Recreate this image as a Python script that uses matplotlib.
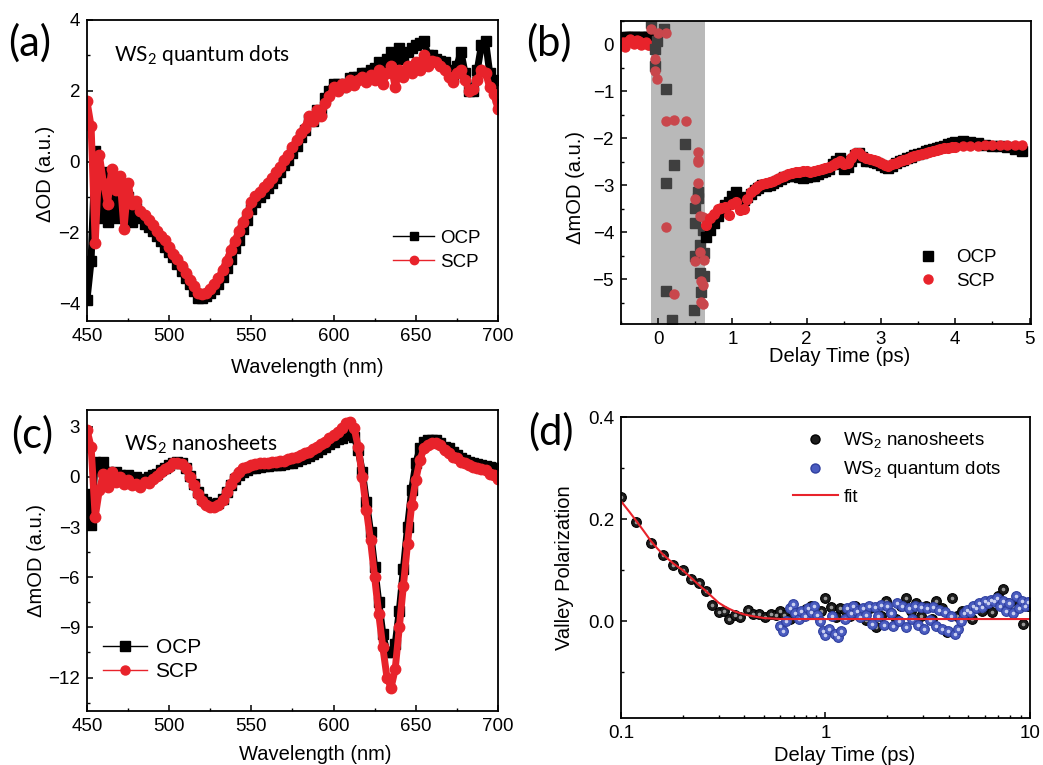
import numpy as np
import matplotlib
matplotlib.use('Agg')
from matplotlib import pyplot as plt
from matplotlib.lines import Line2D
from matplotlib.ticker import MultipleLocator, LogLocator, NullFormatter, FixedLocator

plt.rcParams['font.family'] = ['Liberation Sans', 'DejaVu Sans']
plt.rcParams['xtick.direction'] = 'in'
plt.rcParams['ytick.direction'] = 'in'
plt.rcParams['axes.linewidth'] = 1.3

RED = '#e8232b'

# ---------------- panel (a): WS2 quantum dots spectra ----------------
wl = np.arange(450, 700.1, 2.5)
ocp_a = [-3.9, -2.8, 0.3, -1.6, -0.3, -1.7, -0.9, -1.6, -1.1, -1.5,
         -1.0, -1.7, -1.3, -1.6, -1.75, -1.85, -1.95, -2.1, -2.25, -2.4,
         -2.55, -2.7, -2.9, -3.1, -3.3, -3.45, -3.65, -3.85, -3.85, -3.8,
         -3.7, -3.6, -3.45, -3.25, -3.0, -2.75, -2.45, -2.2, -1.9, -1.65,
         -1.35, -1.15, -1.0, -0.88, -0.75, -0.6, -0.45, -0.3, -0.1, 0.05,
         0.25, 0.45, 0.7, 0.9, 1.2, 1.15, 1.45, 1.4, 1.8, 2.0,
         2.2, 2.2, 2.1, 2.2, 2.35, 2.4, 2.4, 2.5, 2.5, 2.6,
         2.65, 2.8, 2.75, 2.9, 3.1, 2.9, 3.2, 2.9, 3.1, 3.2,
         3.3, 3.35, 3.4, 3.0, 3.0, 2.9, 2.85, 2.8, 2.6, 2.4,
         2.7, 3.1, 2.5, 2.0, 2.0, 2.6, 3.3, 3.4, 2.5, 2.3,
         1.8]
scp_a = [1.7, 1.0, -2.3, 0.2, -0.6, -1.2, -0.2, -0.8, -0.4, -1.9,
         -0.6, -1.2, -1.1, -1.4, -1.5, -1.65, -1.8, -1.95, -2.1, -2.2,
         -2.4, -2.6, -2.75, -2.95, -3.15, -3.35, -3.5, -3.7, -3.75, -3.7,
         -3.6, -3.45, -3.3, -3.05, -2.8, -2.5, -2.25, -1.95, -1.7, -1.45,
         -1.15, -0.98, -0.85, -0.72, -0.6, -0.45, -0.3, -0.15, 0.05, 0.2,
         0.4, 0.6, 0.8, 0.95, 1.3, 1.15, 1.45, 1.3, 1.65, 1.85,
         2.1, 2.0, 2.2, 2.1, 2.3, 2.15, 2.3, 2.4, 2.25, 2.45,
         2.3, 2.6, 2.2, 2.5, 2.7, 2.1, 2.6, 2.4, 2.7, 2.5,
         2.8, 2.6, 3.0, 2.7, 2.85, 2.8, 2.7, 2.6, 2.4, 2.25,
         2.5, 2.6, 2.3, 2.0, 2.05, 2.3, 2.6, 2.5, 2.1, 1.9,
         1.5]

# ---------------- panel (b): kinetics ----------------
t_pre = [-0.47, -0.44, -0.41, -0.38, -0.35, -0.32, -0.29, -0.26, -0.23, -0.20, -0.17, -0.14, -0.12]
ocp_pre = [0.14, 0.16, 0.15, 0.17, 0.15, 0.16, 0.14, 0.15, 0.16, 0.15, 0.14, 0.16, 0.15]
scp_pre = [0.05, -0.05, 0.08, 0.12, 0.06, 0.02, 0.10, 0.07, 0.0, 0.03, 0.05, -0.02, 0.0]

t_ocp_span = [-0.09, -0.04, -0.02, -0.04, 0.085, 0.10, 0.10, 0.11, 0.19, 0.22, 0.36, 0.48, 0.49,
              0.50, 0.50, 0.53, 0.54, 0.56, 0.62, 0.57, 0.62, 0.58, 0.61]
ocp_span = [0.45, -0.1, 0.07, -0.46, 0.33, -0.95, -2.94, -5.24, -5.86, -2.56, -2.11, -5.65, -4.5,
            -3.49, -3.79, -3.13, -3.26, -4.27, -4.44, -4.87, -4.93, -5.27, -3.95]
t_scp_span = [-0.09, 0.0, 0.10, -0.04, -0.04, -0.02, 0.10, 0.22, 0.37, 0.53, 0.53, 0.54, 0.54,
              0.50, 0.56, 0.61, 0.11, 0.56, 0.50, 0.62, 0.58, 0.61, 0.22, 0.58, 0.61]
scp_span = [0.33, 0.24, 0.24, -0.31, -0.56, -0.73, -1.62, -1.6, -1.62, -2.28, -2.51, -2.45, -2.94,
            -3.28, -3.66, -3.68, -3.89, -4.42, -4.61, -4.59, -5.04, -5.12, -5.31, -5.48, -5.52]

t_main = np.arange(0.65, 4.001, 0.05)
ocp_main = [-4.10, -3.95, -3.80, -3.65, -3.55, -3.42, -3.35, -3.22, -3.15, -3.28,
            -3.30, -3.25, -3.18, -3.10, -3.05, -3.00, -3.02, -3.00, -2.95, -2.90,
            -2.87, -2.83, -2.80, -2.80, -2.78, -2.82, -2.85, -2.83, -2.80, -2.80,
            -2.75, -2.72, -2.70, -2.65, -2.55, -2.47, -2.42, -2.65, -2.60, -2.48,
            -2.35, -2.32, -2.40, -2.47, -2.48, -2.50, -2.52, -2.56, -2.60, -2.62,
            -2.58, -2.52, -2.48, -2.45, -2.42, -2.40, -2.36, -2.33, -2.30, -2.27,
            -2.24, -2.22, -2.20, -2.18, -2.15, -2.12, -2.10, -2.08]
scp_main = [-3.85, -3.70, -3.60, -3.50, -3.48, -3.45, -3.62, -3.40, -3.35, -3.52,
            -3.50, -3.28, -3.15, -3.07, -3.02, -2.97, -2.95, -2.93, -2.90, -2.86,
            -2.82, -2.79, -2.76, -2.74, -2.72, -2.72, -2.70, -2.70, -2.72, -2.70,
            -2.68, -2.65, -2.62, -2.60, -2.57, -2.53, -2.48, -2.55, -2.52, -2.42,
            -2.30, -2.30, -2.38, -2.42, -2.44, -2.45, -2.48, -2.52, -2.56, -2.58,
            -2.55, -2.52, -2.48, -2.46, -2.43, -2.40, -2.38, -2.36, -2.33, -2.30,
            -2.28, -2.26, -2.24, -2.22, -2.21, -2.20, -2.19, -2.18]
t_tail = [4.1, 4.2, 4.3, 4.4, 4.5, 4.6, 4.7, 4.8, 4.9]
ocp_tail = [-2.06, -2.08, -2.10, -2.13, -2.15, -2.17, -2.19, -2.22, -2.26]
scp_tail = [-2.16, -2.16, -2.15, -2.14, -2.13, -2.13, -2.13, -2.13, -2.13]

# ---------------- panel (c): WS2 nanosheets spectra ----------------
ocp_c = [-1.0, -2.9, 0.9, 0.5, 0.9, 0.3, 0.2, 0.3, 0.1, 0.0,
         0.1, -0.1, 0.0, -0.2, -0.1, 0.0, 0.1, 0.2, 0.4, 0.55,
         0.7, 0.85, 0.9, 0.8, 0.55, 0.05, -0.45, -0.9, -1.3, -1.5,
         -1.6, -1.6, -1.55, -1.3, -0.9, -0.5, -0.15, 0.1, 0.3, 0.4,
         0.5, 0.55, 0.6, 0.62, 0.65, 0.68, 0.7, 0.72, 0.75, 0.8,
         0.85, 0.95, 1.05, 1.15, 1.25, 1.35, 1.5, 1.65, 1.8, 1.95,
         2.1, 2.25, 2.35, 2.5, 2.6, 2.4, 1.6, 0.3, -1.5, -3.3,
         -5.4, -7.5, -9.4, -10.5, -10.5, -10.0, -8.0, -5.5, -3.0, -0.8,
         0.8, 1.7, 2.1, 2.2, 2.2, 2.2, 2.0, 1.8, 1.7, 1.5,
         1.3, 1.1, 1.0, 0.9, 0.8, 0.75, 0.7, 0.65, 0.6, 0.55,
         0.5]
scp_c = [2.8, 1.8, -2.4, -0.8, 0.2, -0.6, 0.3, -0.3, 0.0, -0.4,
         -0.2, -0.5, -0.4, -0.6, -0.3, -0.35, -0.1, 0.05, 0.3, 0.45,
         0.6, 0.8, 0.85, 0.75, 0.5, 0.0, -0.5, -1.0, -1.45, -1.7,
         -1.8, -1.8, -1.7, -1.4, -0.9, -0.4, 0.0, 0.3, 0.5, 0.6,
         0.7, 0.75, 0.8, 0.82, 0.85, 0.88, 0.9, 0.92, 0.95, 1.05,
         1.1, 1.2, 1.3, 1.4, 1.5, 1.65, 1.8, 1.95, 2.1, 2.3,
         2.5, 2.7, 2.9, 3.2, 3.3, 2.9, 1.8, 0.0, -2.0, -3.8,
         -6.0, -8.2, -10.2, -12.0, -12.6, -11.5, -9.0, -6.5, -4.0, -1.7,
         -0.2, 1.0, 1.7, 1.9, 2.0, 2.0, 1.9, 1.6, 1.4, 1.2,
         1.1, 0.9, 0.8, 0.7, 0.6, 0.55, 0.45, 0.4, 0.2, 0.1,
         -0.1]

# ---------------- panel (d): valley polarization ----------------
t_ns = [0.100, 0.119, 0.140, 0.160, 0.180, 0.200, 0.220, 0.241, 0.259, 0.278, 0.301,
        0.318, 0.339, 0.361, 0.382, 0.416, 0.443, 0.472, 0.505, 0.540, 0.570, 0.600,
        0.63, 0.67, 0.71, 0.75, 0.80, 0.85, 0.90, 0.95, 1.00, 1.06, 1.12, 1.18, 1.25,
        1.32, 1.40, 1.48, 1.57, 1.66, 1.76, 1.86, 1.97, 2.09, 2.21, 2.34, 2.48, 2.62,
        2.78, 2.94, 3.11, 3.30, 3.49, 3.70, 3.91, 4.14, 4.39, 4.65, 4.92, 5.21, 5.52,
        5.84, 6.19, 6.55, 6.94, 7.35, 7.78, 8.24, 8.73, 9.24, 9.79]
vp_ns = [0.243, 0.195, 0.154, 0.130, 0.110, 0.100, 0.083, 0.074, 0.058, 0.031, 0.018,
         0.020, 0.005, 0.011, 0.0085, 0.021, 0.014, 0.014, 0.0085, 0.014, 0.011, 0.020,
         0.012, 0.005, 0.018, 0.010, 0.024, 0.030, 0.015, 0.020, 0.045, 0.028, 0.008, 0.025, 0.022,
         0.010, 0.030, 0.018, 0.002, 0.025, -0.012, 0.010, 0.040, 0.015, 0.005, 0.030, 0.046, 0.020,
         0.035, 0.010, 0.030, 0.005, 0.040, 0.025, -0.022, 0.045, 0.010, 0.020, 0.015, 0.005, 0.025,
         0.020, 0.030, 0.018, 0.050, 0.063, 0.035, 0.028, 0.042, -0.006, 0.030]
t_qd = [0.60, 0.62, 0.64, 0.67, 0.69, 0.71, 0.74, 0.76, 0.79, 0.82, 0.85, 0.88, 0.91, 0.94,
        0.97, 1.00, 1.04, 1.08, 1.11, 1.15, 1.19, 1.24, 1.28, 1.33, 1.37, 1.42, 1.47, 1.52,
        1.58, 1.63, 1.69, 1.75, 1.81, 1.87, 1.94, 2.01, 2.08, 2.15, 2.23, 2.30, 2.38, 2.47,
        2.55, 2.64, 2.74, 2.83, 2.93, 3.03, 3.14, 3.25, 3.36, 3.48, 3.60, 3.73, 3.86, 3.99,
        4.13, 4.28, 4.43, 4.58, 4.74, 4.91, 5.08, 5.26, 5.44, 5.63, 5.83, 6.03, 6.24, 6.46,
        6.69, 6.92, 7.16, 7.41, 7.67, 7.94, 8.22, 8.51, 8.80, 9.11, 9.43, 9.76]
vp_qd = [-0.010, -0.020, 0.000, 0.025, 0.033, 0.015, 0.005, 0.020, 0.010, 0.025, 0.018, 0.030,
         0.012, 0.000, -0.020, -0.028, -0.015, 0.010, -0.025, -0.032, -0.020, 0.005, 0.025, 0.015,
         0.030, 0.020, 0.008, 0.025, 0.012, 0.030, -0.005, 0.028, 0.010, 0.032, -0.008, 0.030,
         0.015, -0.010, 0.035, 0.000, 0.030, -0.012, 0.025, 0.005, 0.030, -0.008, 0.028, -0.015,
         0.025, 0.002, 0.028, -0.010, 0.022, -0.015, 0.018, -0.020, 0.010, -0.025, -0.015, 0.000,
         0.015, 0.022, 0.018, 0.030, 0.025, 0.035, 0.028, 0.040, 0.035, 0.042, 0.040, 0.045,
         0.030, 0.040, 0.020, 0.035, 0.015, 0.050, 0.025, 0.040, 0.030, 0.038]
t_fit = [0.10, 0.11, 0.12, 0.13, 0.14, 0.15, 0.16, 0.18, 0.20, 0.22, 0.24, 0.26, 0.28,
         0.30, 0.33, 0.36, 0.40, 0.45, 0.50, 0.60, 1.0, 10.0]
vp_fit = [0.235, 0.214, 0.194, 0.175, 0.157, 0.143, 0.131, 0.113, 0.100, 0.085, 0.071, 0.059,
          0.047, 0.036, 0.026, 0.019, 0.013, 0.009, 0.006, 0.004, 0.004, 0.004]

fig = plt.figure(figsize=(10.43, 7.65), dpi=100)
ax_a = fig.add_axes([0.0834, 0.5804, 0.394, 0.3935])
ax_b = fig.add_axes([0.5954, 0.5765, 0.3931, 0.396])
ax_c = fig.add_axes([0.0834, 0.0706, 0.394, 0.3935])
ax_d = fig.add_axes([0.5954, 0.0614, 0.3921, 0.3935])

for ax in (ax_a, ax_b, ax_c, ax_d):
    ax.tick_params(which='major', length=4.5, width=1.1, labelsize=13.5, pad=5)
    ax.tick_params(which='minor', length=2.5, width=1.0)

# (a)
ax_a.plot(wl, ocp_a, color='k', lw=5, marker='s', ms=7.5)
ax_a.plot(wl, scp_a, color=RED, lw=5, marker='o', ms=7.5)
ax_a.set_xlim(450, 700)
ax_a.set_ylim(-4.5, 4)
ax_a.xaxis.set_major_locator(MultipleLocator(50))
ax_a.xaxis.set_minor_locator(MultipleLocator(25))
ax_a.yaxis.set_major_locator(MultipleLocator(2))
ax_a.yaxis.set_minor_locator(MultipleLocator(1))
ax_a.set_xlabel('Wavelength (nm)', fontsize=14.5)
ax_a.set_ylabel('ΔOD (a.u.)', fontsize=14.5)
ax_a.xaxis.set_label_coords(0.535, -0.153)
ax_a.yaxis.set_label_coords(-0.102, 0.49)
ax_a.text(0.065, 0.885, 'WS$_\\mathregular{2}$ quantum dots', transform=ax_a.transAxes,
          family='Lato', fontsize=15, va='center')
h_a = [Line2D([], [], color='k', lw=1, marker='s', ms=6),
       Line2D([], [], color=RED, lw=1, marker='o', ms=6)]
ax_a.legend(h_a, ['OCP', 'SCP'], loc='center left', bbox_to_anchor=(0.745, 0.235),
            frameon=False, fontsize=13.5, handlelength=2.2, handletextpad=0.3,
            labelspacing=0.35, borderpad=0, borderaxespad=0)

# (b)
ax_b.axvspan(-0.1, 0.63, color='#b9b9b9', lw=0, zorder=0)
ax_b.plot(t_pre, ocp_pre, ls='none', marker='s', ms=6.5, color='k')
ax_b.plot(t_pre, scp_pre, ls='none', marker='o', ms=6.5, color=RED)
ax_b.plot(t_ocp_span, ocp_span, ls='none', marker='s', ms=6.5, color='#3f3f3f')
ax_b.plot(t_scp_span, scp_span, ls='none', marker='o', ms=6.5, color='#c9474c')
ax_b.plot(t_main, ocp_main, ls='none', marker='s', ms=7, color='k')
ax_b.plot(t_tail, ocp_tail, ls='none', marker='s', ms=6.5, color='k')
ax_b.plot(t_main, scp_main, ls='none', marker='o', ms=7, color=RED)
ax_b.plot(t_tail, scp_tail, ls='none', marker='o', ms=6.5, color=RED)
ax_b.set_xlim(-0.5, 5.02)
ax_b.set_ylim(-5.95, 0.5)
ax_b.xaxis.set_major_locator(MultipleLocator(1))
ax_b.xaxis.set_minor_locator(MultipleLocator(0.5))
ax_b.yaxis.set_major_locator(MultipleLocator(1))
ax_b.yaxis.set_minor_locator(MultipleLocator(0.5))
ax_b.set_xlabel('Delay Time (ps)', fontsize=14.5)
ax_b.set_ylabel('ΔmOD (a.u.)', fontsize=14.5)
ax_b.xaxis.set_label_coords(0.534, -0.106)
ax_b.yaxis.set_label_coords(-0.112, 0.452)
h_b = [Line2D([], [], color='k', ls='none', marker='s', ms=6.5),
       Line2D([], [], color=RED, ls='none', marker='o', ms=6.5)]
ax_b.legend(h_b, ['OCP', 'SCP'], loc='center left', bbox_to_anchor=(0.725, 0.18),
            frameon=False, fontsize=13.5, handlelength=1.0, handletextpad=1.0,
            labelspacing=0.35, borderpad=0, borderaxespad=0)

# (c)
ax_c.plot(wl, ocp_c, color='k', lw=5, marker='s', ms=7.5)
ax_c.plot(wl, scp_c, color=RED, lw=5, marker='o', ms=7.5)
ax_c.set_xlim(450, 700)
ax_c.set_ylim(-14, 4)
ax_c.xaxis.set_major_locator(MultipleLocator(50))
ax_c.xaxis.set_minor_locator(MultipleLocator(25))
ax_c.yaxis.set_major_locator(MultipleLocator(3))
ax_c.yaxis.set_minor_locator(MultipleLocator(1.5))
ax_c.set_xlabel('Wavelength (nm)', fontsize=14.5)
ax_c.set_ylabel('ΔmOD (a.u.)', fontsize=14.5)
ax_c.xaxis.set_label_coords(0.555, -0.146)
ax_c.yaxis.set_label_coords(-0.122, 0.5)
ax_c.text(0.09, 0.885, 'WS$_\\mathregular{2}$ nanosheets', transform=ax_c.transAxes,
          family='Lato', fontsize=15, va='center')
h_c = [Line2D([], [], color='k', lw=1, marker='s', ms=6.5),
       Line2D([], [], color=RED, lw=1, marker='o', ms=6.5)]
ax_c.legend(h_c, ['OCP', 'SCP'], loc='center left', bbox_to_anchor=(0.04, 0.17),
            frameon=False, fontsize=15, handlelength=2.1, handletextpad=0.4,
            labelspacing=0.25, borderpad=0, borderaxespad=0)

# (d)
ax_d.plot(t_ns, vp_ns, ls='none', marker='o', ms=7, mfc='#1c1c1c', mec='#000000', mew=0.8)
ax_d.plot(t_ns, vp_ns, ls='none', marker='o', ms=1.6, color='#9a9a9a')
ax_d.plot(t_qd, vp_qd, ls='none', marker='o', ms=7, mfc='#4a5cc0', mec='#2f3f9f', mew=0.8)
ax_d.plot(t_qd, vp_qd, ls='none', marker='o', ms=1.6, color='#c9cff0')
ax_d.plot(t_fit, vp_fit, color=RED, lw=1.5)
ax_d.set_xscale('log')
ax_d.set_xlim(0.1, 10)
ax_d.set_ylim(-0.19, 0.4)
ax_d.xaxis.set_major_locator(FixedLocator([0.1, 1, 10]))
ax_d.xaxis.set_minor_locator(LogLocator(base=10, subs=np.arange(2, 10)))
ax_d.xaxis.set_minor_formatter(NullFormatter())
ax_d.set_xticklabels(['0.1', '1', '10'])
ax_d.yaxis.set_major_locator(MultipleLocator(0.2))
ax_d.yaxis.set_minor_locator(MultipleLocator(0.1))
ax_d.yaxis.set_major_formatter(plt.FormatStrFormatter('%.1f'))
ax_d.set_xlabel('Delay Time (ps)', fontsize=14.5)
ax_d.set_ylabel('Valley Polarization', fontsize=14.5)
ax_d.xaxis.set_label_coords(0.548, -0.123)
ax_d.yaxis.set_label_coords(-0.137, 0.5)
h_d = [Line2D([], [], ls='none', marker='o', ms=6.5, mfc='#1c1c1c', mec='k'),
       Line2D([], [], ls='none', marker='o', ms=6.5, mfc='#4a5cc0', mec='#2f3f9f'),
       Line2D([], [], color=RED, lw=1.5)]
ax_d.legend(h_d, ['WS$_\\mathregular{2}$ nanosheets', 'WS$_\\mathregular{2}$ quantum dots', 'fit'],
            loc='center left', bbox_to_anchor=(0.42, 0.83), frameon=False, fontsize=13.5,
            handlelength=2.4, handletextpad=0.3, labelspacing=0.45, borderpad=0, borderaxespad=0)

for ax in (ax_a, ax_b, ax_c, ax_d):
    ax.xaxis.label.set_va('center')
    ax.yaxis.label.set_va('center')

# panel letters
for x, y, s in [(8, 43, '(a)'), (526, 43, '(b)'), (11, 435, '(c)'), (528, 432, '(d)')]:
    fig.text(x / 1043, 1 - y / 765, s, family='Lato', fontsize=30, ha='left', va='center')

fig.savefig('out.png', dpi=100)
